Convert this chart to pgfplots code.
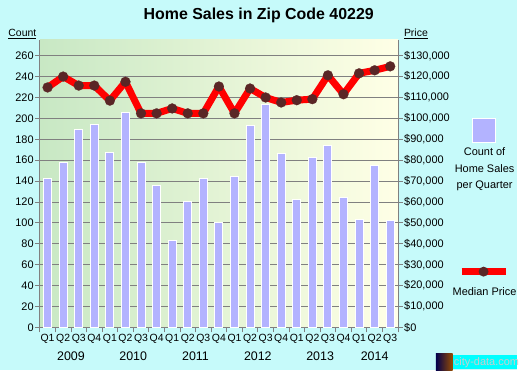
\documentclass[border=0pt]{standalone}
\usepackage{fontspec}
\setmainfont{Liberation Sans}
\usepackage{pgfplots}
\pgfplotsset{compat=1.18}
\definecolor{bgc}{RGB}{198,250,250}
\definecolor{barc}{RGB}{179,179,255}
\definecolor{mk}{RGB}{90,38,38}
\definecolor{gl}{RGB}{200,232,196}
\definecolor{gr}{RGB}{255,255,230}
\definecolor{gridc}{RGB}{128,128,128}
\definecolor{logoc}{RGB}{0,255,255}
\pgfplotstableread{
x count price
0 142 114800
1 158 120000
2 189 115700
3 194 115700
4 167 108500
5 206 117500
6 158 102400
7 136 102400
8 83 104750
9 120 102400
10 142 102400
11 100 115250
12 144 102400
13 193 114300
14 213 110000
15 166 107600
16 122 108700
17 163 109200
18 174 120600
19 124 111550
20 103 121550
21 155 123000
22 102 124900
}\datatable
\begin{document}
\begin{tikzpicture}[x=1pt,y=1pt]
\fill[bgc] (0,0) rectangle (520,372);
\begin{axis}[
  at={(40pt,43pt)}, anchor=south west, scale only axis,
  width=360pt, height=289pt,
  xmin=-0.5, xmax=22.5, ymin=0, ymax=275.2,
  clip mode=individual,
  axis background/.style={shade, left color=gl, right color=gr},
  axis x line*=bottom, axis y line*=left,
  axis line style={gridc, line width=0.8pt, -},
  ytick={0,20,...,260},
  ymajorgrids, major grid style={gridc, line width=0.9pt},
  xtick={-0.5,0.5,...,22.5}, xticklabels=\empty,
  tick align=outside, major tick length=5pt,
  tick style={gridc, line width=0.8pt},
  extra x ticks={0,...,22},
  extra x tick labels={Q1,Q2,Q3,Q4,Q1,Q2,Q3,Q4,Q1,Q2,Q3,Q4,Q1,Q2,Q3,Q4,Q1,Q2,Q3,Q4,Q1,Q2,Q3},
  extra x tick style={major tick length=0pt, grid=none,
     tick label style={font=\fontsize{10.5}{12}\selectfont, inner sep=0pt, yshift=-7pt}},
  yticklabel style={font=\fontsize{11}{13}\selectfont, inner sep=1pt},
  /pgf/number format/assume math mode=true,
]
\addplot[ybar, bar width=8pt, fill=barc, draw=white, line width=1pt] table[x=x, y=count] {\datatable};
\node[font=\fontsize{12.5}{14}\selectfont] at (axis cs:1.5,0) [yshift=-29pt] {2009};
\node[font=\fontsize{12.5}{14}\selectfont] at (axis cs:5.5,0) [yshift=-29pt] {2010};
\node[font=\fontsize{12.5}{14}\selectfont] at (axis cs:9.5,0) [yshift=-29pt] {2011};
\node[font=\fontsize{12.5}{14}\selectfont] at (axis cs:13.5,0) [yshift=-29pt] {2012};
\node[font=\fontsize{12.5}{14}\selectfont] at (axis cs:17.5,0) [yshift=-29pt] {2013};
\node[font=\fontsize{12.5}{14}\selectfont] at (axis cs:21,0) [yshift=-29pt] {2014};
\end{axis}
\begin{axis}[
  at={(40pt,43pt)}, anchor=south west, scale only axis,
  width=360pt, height=289pt,
  xmin=-0.5, xmax=22.5, ymin=0, ymax=137600,
  axis x line=none, axis y line*=right,
  axis line style={gridc, line width=0.8pt, -},
  ytick={0,10000,...,130000},
  scaled y ticks=false,
  tick align=outside, major tick length=5pt,
  tick style={gridc, line width=0.8pt},
  yticklabel={\$\pgfmathprintnumber{\tick}},
  yticklabel style={font=\fontsize{11}{13}\selectfont, inner sep=1pt},
  /pgf/number format/.cd, fixed, 1000 sep={,}, assume math mode=true,
]
\addplot[red, line width=7pt, line join=round, mark=*, mark size=5pt,
  mark options={solid, fill=mk, draw=mk, line width=0.2pt}] table[x=x, y=price] {\datatable};
\end{axis}
\node[font=\bfseries\fontsize{16}{18}\selectfont] at (260,357) {Home Sales in Zip Code 40229};
\node[font=\fontsize{10.5}{12}\selectfont] at (22.5,338) {\underline{Count}};
\node[font=\fontsize{10.5}{12}\selectfont] at (418,338) {\underline{Price}};
\fill[barc, draw=white, line width=1pt] (475,229) rectangle (498,253);
\node[font=\fontsize{11}{16.5}\selectfont, align=center, anchor=north] at (487,227) {Count of\\Home Sales\\per Quarter};
\draw[red, line width=7pt] (464,99) -- (509,99);
\fill[mk] (486,99) circle (5);
\node[font=\fontsize{11}{13}\selectfont] at (487,79) {Median Price};
\shade[left color=black!70!blue, right color=orange!60!black] (438,0) rectangle (455,17);
\fill[logoc] (455,1) rectangle (520,15);
\node[font=\fontsize{11}{13}\selectfont, text=gray!40, anchor=west, inner sep=1pt] at (455,8) {city-data.com};
\end{tikzpicture}
\end{document}
